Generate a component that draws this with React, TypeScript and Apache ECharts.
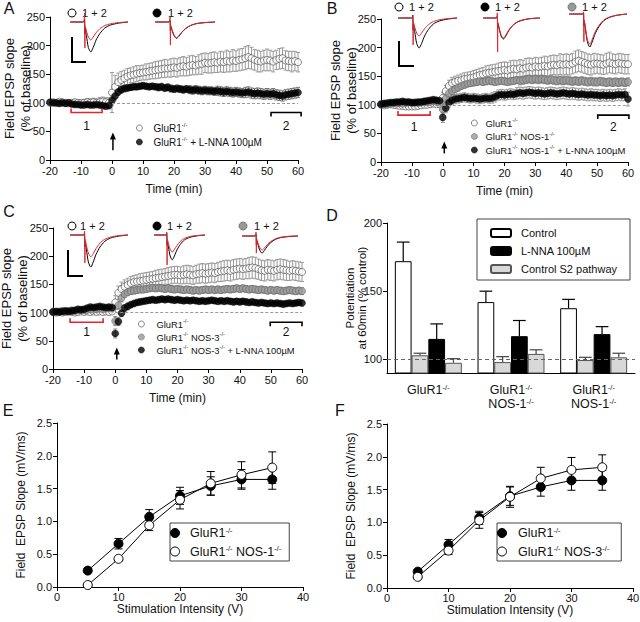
import React, { useEffect, useRef } from 'react';
import * as echarts from 'echarts';

const FONT = '"Liberation Sans", Arial, Helvetica, sans-serif';
const RED = '#e3262d';

// ---------- time course (min) ----------
const timeMin: number[] = Array.from({ length: 81 }, (_, i) => i - 20);

// Panel A
const aOpen = [
  100, 101, 100, 102, 101, 100, 99, 100, 101, 100,
  99, 100, 101, 100, 101, 100, 101, 102, 101, 100,
  118, 128, 136, 140, 143, 146, 148, 149, 151, 152,
  153, 154, 155, 156, 157, 158, 159, 160, 160, 161,
  162, 161, 163, 164, 163, 165, 166, 165, 167, 168,
  170, 169, 170, 171, 170, 172, 171, 173, 172, 174,
  173, 175, 176, 178, 180, 178, 175, 173, 172, 174,
  175, 174, 172, 175, 177, 178, 174, 173, 172, 173,
  171,
];
const aOpenErr = [
  3, 3, 3, 4, 3, 4, 4, 5, 5, 5,
  6, 6, 6, 7, 7, 7, 8, 8, 8, 9,
  35, 20, 16, 15, 14, 14, 13, 14, 14, 13,
  13, 14, 14, 14, 15, 15, 15, 16, 15, 16,
  16, 16, 16, 17, 16, 17, 17, 16, 17, 18,
  17, 17, 18, 18, 17, 18, 18, 19, 18, 19,
  18, 19, 19, 20, 20, 19, 18, 19, 18, 18,
  19, 18, 18, 17, 18, 18, 17, 17, 18, 17,
  17,
];
const aLnna = [
  101, 100, 100, 99, 100, 99, 100, 98, 97, 97,
  96, 96, 97, 96, 96, 97, 96, 95, 94, 95,
  104, 112, 119, 123, 125, 126, 127, 128, 128, 129,
  130, 129, 128, 129, 128, 127, 128, 126, 127, 125,
  124, 125, 124, 123, 124, 123, 122, 123, 122, 121,
  122, 121, 121, 120, 121, 120, 119, 120, 119, 118,
  119, 118, 117, 118, 119, 117, 116, 117, 116, 115,
  116, 115, 116, 114, 113, 112, 114, 115, 116, 117,
  118,
];
const aLnnaErr = [
  2, 2, 2, 2, 2, 2, 3, 3, 3, 3,
  3, 3, 3, 3, 3, 3, 3, 3, 3, 3,
  8, 7, 6, 6, 6, 5, 5, 5, 5, 5,
  5, 5, 5, 5, 5, 6, 6, 6, 6, 6,
  6, 6, 6, 6, 6, 7, 7, 7, 7, 7,
  7, 7, 7, 7, 8, 8, 8, 8, 8, 8,
  8, 8, 8, 9, 9, 9, 9, 9, 9, 9,
  9, 9, 9, 9, 9, 9, 9, 9, 9, 9,
  9,
];

// Panel B
const bOpen = [
  100, 99, 100, 101, 100, 99, 98, 98, 97, 97,
  97, 97, 98, 99, 100, 100, 101, 102, 101, 101,
  112, 124, 133, 138, 140, 142, 143, 145, 146, 147,
  148, 150, 152, 153, 155, 156, 157, 158, 159, 160,
  161, 160, 162, 163, 162, 164, 163, 165, 166, 165,
  167, 166, 167, 168, 167, 169, 170, 169, 171, 170,
  171, 170, 172, 175, 177, 175, 173, 171, 170, 172,
  172, 171, 170, 172, 174, 172, 171, 173, 172, 171,
  171,
];
const bOpenErr = [
  3, 3, 3, 3, 3, 3, 3, 3, 3, 3,
  3, 3, 3, 3, 3, 4, 4, 4, 4, 4,
  10, 10, 10, 10, 10, 10, 11, 11, 11, 11,
  12, 12, 12, 12, 13, 13, 13, 13, 14, 14,
  14, 14, 15, 15, 15, 15, 15, 16, 16, 16,
  16, 16, 16, 17, 17, 17, 17, 17, 18, 18,
  18, 18, 18, 19, 19, 18, 18, 18, 18, 18,
  17, 17, 17, 18, 18, 17, 17, 17, 17, 17,
  17,
];
const bNos = [
  101, 102, 101, 102, 103, 102, 103, 102, 103, 104,
  103, 104, 103, 104, 105, 104, 105, 106, 105, 104,
  92, 111, 120, 124, 127, 130, 133, 135, 137, 138,
  139, 140, 141, 140, 141, 142, 141, 140, 141, 142,
  141, 140, 141, 142, 143, 142, 143, 144, 145, 144,
  145, 144, 145, 144, 143, 144, 143, 142, 143, 142,
  143, 142, 141, 142, 141, 142, 141, 140, 141, 140,
  140, 141, 140, 139, 140, 139, 140, 139, 140, 139,
  140,
];
const bNosErr = [
  3, 3, 3, 3, 3, 3, 3, 3, 3, 3,
  3, 3, 3, 3, 3, 3, 3, 3, 3, 3,
  8, 7, 7, 6, 6, 6, 6, 6, 6, 6,
  6, 6, 6, 6, 6, 6, 6, 6, 6, 6,
  6, 6, 6, 6, 6, 7, 7, 7, 7, 7,
  7, 7, 7, 7, 7, 7, 7, 7, 7, 7,
  7, 7, 7, 7, 7, 7, 7, 7, 7, 7,
  7, 7, 7, 7, 7, 7, 7, 7, 7, 7,
  7,
];
const bLnna = [
  101, 102, 103, 104, 104, 105, 105, 106, 105, 105,
  104, 104, 105, 105, 106, 107, 108, 109, 108, 107,
  78, 94, 104, 108, 110, 111, 112, 113, 112, 111,
  112, 111, 110, 111, 112, 111, 112, 114, 117, 118,
  117, 118, 119, 118, 120, 121, 120, 121, 122, 121,
  120, 121, 120, 119, 120, 121, 120, 119, 120, 121,
  120, 119, 120, 119, 118, 119, 118, 117, 118, 117,
  117, 116, 117, 116, 117, 116, 117, 118, 117, 118,
  110,
];
const bLnnaErr = [
  2, 2, 2, 2, 2, 3, 3, 3, 3, 3,
  3, 3, 3, 3, 3, 3, 3, 3, 3, 3,
  9, 8, 8, 8, 8, 8, 8, 8, 8, 8,
  8, 8, 8, 8, 8, 8, 9, 9, 9, 9,
  9, 9, 9, 9, 10, 10, 10, 10, 10, 10,
  10, 10, 10, 10, 10, 10, 10, 10, 10, 10,
  10, 10, 10, 10, 10, 10, 10, 10, 10, 10,
  10, 10, 10, 10, 10, 10, 10, 10, 10, 10,
  12,
];

// Panel C
const cOpen = [
  101, 100, 101, 100, 101, 102, 101, 100, 101, 102,
  101, 102, 101, 102, 101, 102, 101, 102, 101, 102,
  118, 135, 142, 146, 149, 152, 154, 155, 156, 157,
  158, 159, 160, 161, 162, 163, 164, 165, 166, 167,
  167, 166, 167, 168, 167, 166, 168, 169, 170, 169,
  170, 171, 170, 172, 173, 174, 175, 174, 176, 177,
  178, 177, 178, 179, 180, 179, 177, 175, 174, 176,
  175, 174, 176, 177, 176, 175, 174, 175, 174, 173,
  172,
];
const cOpenErr = [
  3, 3, 3, 3, 3, 3, 3, 3, 3, 3,
  3, 3, 3, 3, 3, 3, 3, 3, 3, 3,
  12, 12, 12, 12, 12, 12, 12, 12, 13, 13,
  13, 13, 13, 14, 14, 14, 14, 15, 15, 15,
  15, 15, 16, 16, 16, 16, 16, 17, 17, 17,
  17, 17, 17, 17, 18, 18, 18, 18, 18, 18,
  18, 18, 18, 19, 19, 19, 18, 18, 18, 18,
  18, 18, 18, 18, 18, 18, 17, 17, 17, 17,
  17,
];
const cNos = [
  102, 101, 102, 103, 102, 103, 104, 103, 104, 105,
  104, 105, 106, 105, 106, 107, 106, 107, 108, 107,
  85, 113, 126, 133, 136, 138, 139, 140, 141, 141,
  142, 143, 144, 143, 144, 143, 142, 143, 142, 141,
  142, 141, 140, 141, 140, 139, 140, 139, 140, 141,
  140, 141, 140, 141, 140, 141, 142, 141, 142, 143,
  142, 143, 142, 141, 142, 141, 140, 141, 140, 139,
  140, 139, 140, 139, 138, 139, 140, 139, 138, 139,
  138,
];
const cNosErr = [
  3, 3, 3, 3, 3, 3, 3, 3, 3, 3,
  3, 3, 3, 3, 3, 3, 3, 3, 3, 3,
  8, 7, 7, 6, 6, 6, 6, 6, 6, 6,
  6, 6, 6, 6, 6, 6, 6, 6, 6, 6,
  6, 6, 6, 6, 6, 6, 6, 6, 6, 6,
  6, 6, 6, 6, 6, 6, 6, 6, 6, 6,
  6, 6, 6, 6, 6, 6, 6, 6, 6, 6,
  6, 6, 6, 6, 6, 6, 6, 6, 6, 6,
  6,
];
const cLnna = [
  101, 102, 101, 102, 103, 102, 103, 104, 106, 105,
  106, 108, 110, 109, 110, 111, 110, 109, 110, 109,
  63, 84, 99, 108, 111, 114, 116, 118, 119, 120,
  121, 122, 123, 122, 123, 124, 123, 124, 123, 122,
  123, 122, 121, 122, 121, 122, 121, 120, 121, 120,
  121, 122, 121, 120, 121, 120, 121, 120, 119, 120,
  119, 120, 119, 118, 119, 118, 117, 118, 117, 116,
  117, 116, 117, 116, 115, 116, 117, 116, 117, 118,
  117,
];
const cLnnaErr = [
  2, 2, 2, 2, 2, 2, 3, 3, 3, 3,
  3, 3, 3, 3, 3, 3, 3, 3, 3, 3,
  8, 7, 6, 6, 6, 5, 5, 5, 5, 5,
  5, 5, 5, 5, 5, 5, 5, 5, 5, 5,
  5, 5, 5, 5, 5, 5, 5, 5, 5, 5,
  5, 5, 5, 5, 5, 5, 5, 5, 5, 5,
  5, 5, 5, 5, 5, 5, 5, 5, 5, 5,
  5, 5, 5, 5, 5, 5, 5, 5, 5, 5,
  5,
];

// Brackets (time, % of baseline) and arrows
const bracketsA = [
  { from: -13.2, to: -3.2, y: 83, labelY: 60, text: '1' },
  { from: 51.3, to: 61, y: 83, labelY: 60, text: '2' },
];
const bracketsB = [
  { from: -14.5, to: -4.1, y: 82, labelY: 61, text: '1' },
  { from: 50.2, to: 60.3, y: 82, labelY: 62, text: '2' },
];
const bracketsC = [
  { from: -14.5, to: -3.9, y: 83, labelY: 66, text: '1' },
  { from: 49.8, to: 60, y: 83, labelY: 66, text: '2' },
];
const arrowA = { x: 0.3, y0: 17, y1: 48 };
const arrowB = { x: 0.5, y0: 15, y1: 36 };
const arrowC = { x: 0.5, y0: 17, y1: 38 };

// ---------- inset traces ----------
const traceT = [0, 14, 15, 15.4, 15.8, 17, 19, 21.5, 24, 27, 31, 36, 42, 50, 60];
const trRedA1 = [0, 0, 0.3, -0.87, -0.15, -0.3, -0.5, -0.6, -0.5, -0.36, -0.22, -0.12, -0.06, -0.02, 0];
const trBlkA1 = [0, 0, 0.1, -0.4, -0.2, -0.45, -0.85, -1.0, -0.85, -0.6, -0.38, -0.2, -0.1, -0.04, 0];
const trRedA2 = [0, 0, 0.17, -0.77, -0.12, -0.25, -0.42, -0.53, -0.45, -0.33, -0.2, -0.11, -0.05, -0.02, 0];
const trBlkA2 = [0, 0, 0.05, -0.3, -0.15, -0.28, -0.45, -0.55, -0.47, -0.34, -0.21, -0.11, -0.05, -0.02, 0];
const trRedB1 = [0, 0, 0.1, -0.9, -0.15, -0.3, -0.5, -0.6, -0.5, -0.36, -0.22, -0.12, -0.06, -0.02, 0];
const trBlkB1 = [0, 0, 0.1, -0.4, -0.2, -0.45, -0.85, -1.0, -0.85, -0.6, -0.38, -0.2, -0.1, -0.04, 0];
const trRedB2 = [0, 0, 0.17, -1.13, -0.15, -0.33, -0.56, -0.67, -0.57, -0.41, -0.25, -0.13, -0.06, -0.02, 0];
const trBlkB2 = [0, 0, 0.05, -0.35, -0.2, -0.35, -0.6, -0.7, -0.6, -0.43, -0.26, -0.14, -0.07, -0.02, 0];
const trRedB3 = [0, 0, 0.07, -0.93, -0.2, -0.45, -0.85, -1.0, -0.85, -0.6, -0.38, -0.2, -0.1, -0.04, 0];
const trBlkB3 = [0, 0, 0.05, -0.4, -0.25, -0.5, -0.92, -1.1, -0.93, -0.66, -0.42, -0.22, -0.11, -0.04, 0];
const trRedC1 = [0, 0, 0.13, -0.93, -0.15, -0.35, -0.6, -0.73, -0.62, -0.45, -0.27, -0.14, -0.07, -0.02, 0];
const trBlkC1 = [0, 0, 0.05, -0.4, -0.25, -0.5, -0.9, -1.07, -0.9, -0.64, -0.4, -0.21, -0.1, -0.04, 0];
const trRedC2 = [0, 0, 0.1, -1.0, -0.15, -0.28, -0.47, -0.57, -0.48, -0.35, -0.21, -0.11, -0.05, -0.02, 0];
const trBlkC2 = [0, 0, 0.05, -0.35, -0.2, -0.4, -0.7, -0.83, -0.7, -0.5, -0.31, -0.16, -0.08, -0.03, 0];
const trRedC3 = [0, 0, 0.13, -0.57, -0.1, -0.23, -0.38, -0.47, -0.4, -0.29, -0.18, -0.09, -0.04, -0.01, 0];
const trBlkC3 = [0, 0, 0.05, -0.3, -0.15, -0.28, -0.47, -0.57, -0.48, -0.35, -0.21, -0.11, -0.05, -0.02, 0];

// ---------- Panel D ----------
const dGroups = ['GluR1-/-', 'GluR1-/-\nNOS-1-/-', 'GluR1-/-\nNOS-1-/-'];
const dControl = [172, 142, 137.5];
const dControlErr = [14, 8, 6.5];
const dS2a = [103, 98, 99.5];
const dS2aErr = [1.5, 4, 2];
const dLnna = [115, 117, 118.5];
const dLnnaErr = [11, 11.5, 5.5];
const dS2b = [97.5, 104, 101.5];
const dS2bErr = [3, 3, 3];

// ---------- Panels E, F ----------
const stimV = [5, 10, 15, 20, 25, 30, 35];
const eGlu = [0.25, 0.66, 1.07, 1.39, 1.54, 1.64, 1.64];
const eGluErr = [0.03, 0.08, 0.11, 0.13, 0.14, 0.15, 0.15];
const eNos1 = [0.03, 0.43, 0.94, 1.33, 1.58, 1.71, 1.82];
const eNos1Err = [0.02, 0.03, 0.08, 0.14, 0.18, 0.2, 0.24];
const fGlu = [0.25, 0.66, 1.07, 1.4, 1.54, 1.64, 1.64];
const fGluErr = [0.03, 0.08, 0.1, 0.14, 0.14, 0.15, 0.15];
const fNos3 = [0.17, 0.57, 1.03, 1.39, 1.67, 1.8, 1.84];
const fNos3Err = [0.03, 0.06, 0.12, 0.16, 0.17, 0.19, 0.19];

// ---------- helpers ----------
const toRich = (s: string) =>
  s
    .split('\n')
    .map((line) =>
      line
        .split('-/-')
        .map((p, i, arr) => (p ? `{n|${p}}` : '') + (i < arr.length - 1 ? '{s|-/-}' : ''))
        .join('')
    )
    .join('\n');

const legendLabels: Record<string, string> = {
  A_open: 'GluR1-/-',
  A_lnna: 'GluR1-/- + L-NNA 100µM',
  B_open: 'GluR1-/-',
  B_nos: 'GluR1-/- NOS-1-/-',
  B_lnna: 'GluR1-/- NOS-1-/- + L-NNA 100µM',
  C_open: 'GluR1-/-',
  C_nos: 'GluR1-/- NOS-3-/-',
  C_lnna: 'GluR1-/- NOS-3-/- + L-NNA 100µM',
  E_glu: 'GluR1-/-',
  E_nos: 'GluR1-/- NOS-1-/-',
  F_glu: 'GluR1-/-',
  F_nos: 'GluR1-/- NOS-3-/-',
};

const richFor = (fs: number, lh: number) => ({
  n: { fontSize: fs, lineHeight: lh, fontFamily: FONT, color: '#111', verticalAlign: 'middle' },
  s: { fontSize: fs * 0.6, lineHeight: lh * 0.55, fontFamily: FONT, color: '#111', verticalAlign: 'top' },
});

const pts = (vals: number[]) => vals.map((v, i) => [timeMin[i], v]);
const errPts = (vals: number[], errs: number[]) => vals.map((v, i) => [timeMin[i], v, errs[i]]);

function errBars(gi: number, data: number[][], color: string, cap: number, z: number) {
  return {
    type: 'custom',
    xAxisIndex: gi,
    yAxisIndex: gi,
    silent: true,
    z,
    clip: false,
    encode: { x: 0, y: 1 },
    data,
    renderItem: (_p: any, api: any) => {
      const x = api.value(0), y = api.value(1), e = api.value(2);
      const hi = api.coord([x, y + e]);
      const lo = api.coord([x, y - e]);
      const h = cap / 2;
      const st = { stroke: color, lineWidth: 1 };
      return {
        type: 'group',
        children: [
          { type: 'line', shape: { x1: hi[0], y1: hi[1], x2: lo[0], y2: lo[1] }, style: st },
          { type: 'line', shape: { x1: hi[0] - h, y1: hi[1], x2: hi[0] + h, y2: hi[1] }, style: st },
          { type: 'line', shape: { x1: lo[0] - h, y1: lo[1], x2: lo[0] + h, y2: lo[1] }, style: st },
        ],
      };
    },
  };
}

function annotations(gi: number, brackets: any[], arrow: any) {
  const data = brackets.map((b) => [b.from, b.y]).concat([[arrow.x, arrow.y0]]);
  return {
    type: 'custom',
    xAxisIndex: gi,
    yAxisIndex: gi,
    silent: true,
    z: 8,
    clip: false,
    encode: { x: 0, y: 1 },
    data,
    renderItem: (params: any, api: any) => {
      const i = params.dataIndex;
      if (i < brackets.length) {
        const b = brackets[i];
        const p1 = api.coord([b.from, b.y]);
        const p2 = api.coord([b.to, b.y]);
        const pl = api.coord([(b.from + b.to) / 2, b.labelY]);
        const isRed = b.text === '1';
        const dy = isRed ? -4 : 4;
        return {
          type: 'group',
          children: [
            {
              type: 'polyline',
              shape: { points: [[p1[0], p1[1] + dy], [p1[0], p1[1]], [p2[0], p2[1]], [p2[0], p2[1] + dy]] },
              style: { stroke: isRed ? RED : '#000', lineWidth: 1.6, fill: null },
            },
            {
              type: 'text',
              x: pl[0],
              y: pl[1],
              style: { text: b.text, fill: '#111', fontSize: 12, fontFamily: FONT, align: 'center', verticalAlign: 'middle' },
            },
          ],
        };
      }
      const a0 = api.coord([arrow.x, arrow.y0]);
      const a1 = api.coord([arrow.x, arrow.y1]);
      return {
        type: 'group',
        children: [
          { type: 'line', shape: { x1: a0[0], y1: a0[1], x2: a1[0], y2: a1[1] + 5 }, style: { stroke: '#000', lineWidth: 1.5 } },
          {
            type: 'polygon',
            shape: { points: [[a1[0], a1[1]], [a1[0] - 3, a1[1] + 7], [a1[0] + 3, a1[1] + 7]] },
            style: { fill: '#000' },
          },
        ],
      };
    },
  };
}

const axisLine = { show: true, onZero: false, lineStyle: { color: '#000', width: 1 } };
const axisTick = { show: true, inside: false, length: 4, lineStyle: { color: '#000', width: 1 } };
const tickLabel = (margin: number) => ({ color: '#111', fontSize: 11, fontFamily: FONT, margin });

function timeXAxis(gi: number) {
  return {
    type: 'value', gridIndex: gi, min: -20, max: 60, interval: 10,
    axisLine, axisTick, axisLabel: tickLabel(5), splitLine: { show: false },
    name: 'Time (min)', nameLocation: 'middle', nameGap: 23,
    nameTextStyle: { fontSize: 12, color: '#111', fontFamily: FONT },
  };
}
function timeYAxis(gi: number, gap: number) {
  return {
    type: 'value', gridIndex: gi, min: 0, max: 250, interval: 50,
    axisLine, axisTick, axisLabel: tickLabel(5), splitLine: { show: false },
    name: 'Field EPSP slope\n(% of baseline)', nameLocation: 'middle', nameGap: gap, nameRotate: 90,
    nameMoveOverlap: false,
    nameTextStyle: { fontSize: 13, lineHeight: 15.5, color: '#111', fontFamily: FONT },
  };
}

const openStyle = { color: '#fff', borderColor: '#444', borderWidth: 0.8 };
const grayStyle = { color: '#9a9a9a', borderColor: '#6a6a6a', borderWidth: 0.8 };
const blackStyle = { color: '#000', borderColor: '#000', borderWidth: 0.5 };

function scatter(name: string, gi: number, vals: number[], style: any, z: number, dashed = false) {
  const s: any = {
    type: 'scatter', name, xAxisIndex: gi, yAxisIndex: gi, data: pts(vals),
    symbol: 'circle', symbolSize: 7, itemStyle: style, z, silent: true,
  };
  if (dashed) {
    s.markLine = {
      silent: true, symbol: 'none', label: { show: false },
      lineStyle: { color: '#999', type: [3, 2], width: 1 },
      data: [[{ coord: [0, 100] }, { coord: [60, 100] }]],
    };
  }
  return s;
}

const insets = [
  { left: 70, base: 22, width: 58, red: trRedA1, black: trBlkA1 },
  { left: 155, base: 22, width: 60, red: trRedA2, black: trBlkA2 },
  { left: 398, base: 18, width: 59, red: trRedB1, black: trBlkB1 },
  { left: 483, base: 18, width: 57, red: trRedB2, black: trBlkB2 },
  { left: 569, base: 14, width: 58, red: trRedB3, black: trBlkB3 },
  { left: 70, base: 235, width: 58, red: trRedC1, black: trBlkC1 },
  { left: 154, base: 235, width: 51, red: trRedC2, black: trBlkC2 },
  { left: 242, base: 236, width: 56, red: trRedC3, black: trBlkC3 },
];

function buildOption() {
  const grids: any[] = [
    { left: 50, top: 17, width: 248, height: 143 },
    { left: 381, top: 19, width: 247, height: 143 },
    { left: 53, top: 228, width: 249, height: 141 },
    { left: 387, top: 223, width: 248, height: 150 },
    { left: 57, top: 423, width: 246, height: 164 },
    { left: 387, top: 424, width: 246, height: 164 },
  ];
  insets.forEach((ins) => grids.push({ left: ins.left, top: ins.base - 12, width: ins.width, height: 51 }));
  grids.forEach((g) => { g.outerBoundsMode = 'none'; g.containLabel = false; });

  const xAxes: any[] = [
    timeXAxis(0),
    timeXAxis(1),
    timeXAxis(2),
    {
      type: 'category', gridIndex: 3, data: dGroups,
      axisLine, axisTick: { show: false },
      axisLabel: {
        margin: 10, interval: 0,
        formatter: (v: string) => toRich(v),
        rich: {
          n: { fontSize: 12.5, lineHeight: 14, fontFamily: FONT, color: '#111', verticalAlign: 'middle' },
          s: { fontSize: 7.5, lineHeight: 8, fontFamily: FONT, color: '#111', verticalAlign: 'top' },
        },
      },
    },
    {
      type: 'value', gridIndex: 4, min: 0, max: 40, interval: 10, axisLine, axisTick, axisLabel: tickLabel(4),
      splitLine: { show: false }, name: 'Stimulation Intensity (V)', nameLocation: 'middle', nameGap: 16,
      nameTextStyle: { fontSize: 12, color: '#111', fontFamily: FONT },
    },
    {
      type: 'value', gridIndex: 5, min: 0, max: 40, interval: 10, axisLine, axisTick, axisLabel: tickLabel(4),
      splitLine: { show: false }, name: 'Stimulation Intensity (V)', nameLocation: 'middle', nameGap: 16,
      nameTextStyle: { fontSize: 12, color: '#111', fontFamily: FONT },
    },
  ];
  const yAxes: any[] = [
    timeYAxis(0, 17),
    timeYAxis(1, 22),
    timeYAxis(2, 23),
    {
      type: 'value', gridIndex: 3, min: 90, max: 200, axisLine,
      axisTick: { ...axisTick, customValues: [100, 150, 200] },
      axisLabel: { ...tickLabel(5), customValues: [100, 150, 200] },
      splitLine: { show: false },
      name: 'Potentiation\nat 60min (% control)', nameLocation: 'middle', nameGap: 19, nameRotate: 90,
      nameMoveOverlap: false,
      nameTextStyle: { fontSize: 11.5, lineHeight: 12, color: '#111', fontFamily: FONT },
    },
    {
      type: 'value', gridIndex: 4, min: 0, max: 2.5, interval: 0.5, axisLine, axisTick,
      axisLabel: { ...tickLabel(5), formatter: (v: number) => v.toFixed(1) }, splitLine: { show: false },
      name: 'Field  EPSP Slope (mV/ms)', nameLocation: 'middle', nameGap: 30, nameRotate: 90,
      nameMoveOverlap: false,
      nameTextStyle: { fontSize: 12, color: '#111', fontFamily: FONT },
    },
    {
      type: 'value', gridIndex: 5, min: 0, max: 2.5, interval: 0.5, axisLine, axisTick,
      axisLabel: { ...tickLabel(5), formatter: (v: number) => v.toFixed(1) }, splitLine: { show: false },
      name: 'Field  EPSP Slope (mV/ms)', nameLocation: 'middle', nameGap: 30, nameRotate: 90,
      nameMoveOverlap: false,
      nameTextStyle: { fontSize: 12, color: '#111', fontFamily: FONT },
    },
  ];
  insets.forEach((_, k) => {
    xAxes.push({ type: 'value', gridIndex: 6 + k, min: 0, max: 60, show: false });
    yAxes.push({ type: 'value', gridIndex: 6 + k, min: -1.3, max: 0.4, show: false });
  });

  const series: any[] = [
    // A
    errBars(0, errPts(aOpen, aOpenErr), '#9a9a9a', 4, 1),
    errBars(0, errPts(aLnna, aLnnaErr), '#777', 4, 1),
    scatter('A_open', 0, aOpen, openStyle, 2, true),
    scatter('A_lnna', 0, aLnna, blackStyle, 4),
    annotations(0, bracketsA, arrowA),
    // B
    errBars(1, errPts(bOpen, bOpenErr), '#9a9a9a', 4, 1),
    errBars(1, errPts(bNos, bNosErr), '#888', 4, 1),
    errBars(1, errPts(bLnna, bLnnaErr), '#999', 4, 1),
    scatter('B_open', 1, bOpen, openStyle, 2, true),
    scatter('B_nos', 1, bNos, grayStyle, 3),
    scatter('B_lnna', 1, bLnna, blackStyle, 4),
    annotations(1, bracketsB, arrowB),
    // C
    errBars(2, errPts(cOpen, cOpenErr), '#9a9a9a', 4, 1),
    errBars(2, errPts(cNos, cNosErr), '#888', 4, 1),
    errBars(2, errPts(cLnna, cLnnaErr), '#999', 4, 1),
    scatter('C_open', 2, cOpen, openStyle, 2, true),
    scatter('C_nos', 2, cNos, grayStyle, 3),
    scatter('C_lnna', 2, cLnna, blackStyle, 4),
    annotations(2, bracketsC, arrowC),
    // D
    {
      type: 'bar', name: 'Control', xAxisIndex: 3, yAxisIndex: 3, data: dControl,
      barGap: '0%', barCategoryGap: '19%', silent: true,
      itemStyle: { color: '#fff', borderColor: '#000', borderWidth: 1 },
    },
    {
      type: 'bar', name: 'Control S2 pathway', xAxisIndex: 3, yAxisIndex: 3, data: dS2a,
      barGap: '0%', barCategoryGap: '19%', silent: true,
      itemStyle: { color: '#d8d8d8', borderColor: '#555', borderWidth: 1 },
    },
    {
      type: 'bar', name: 'L-NNA 100µM', xAxisIndex: 3, yAxisIndex: 3, data: dLnna,
      barGap: '0%', barCategoryGap: '19%', silent: true,
      itemStyle: { color: '#000', borderColor: '#000', borderWidth: 1 },
    },
    {
      type: 'bar', name: 'Control S2 pathway', xAxisIndex: 3, yAxisIndex: 3, data: dS2b,
      barGap: '0%', barCategoryGap: '19%', silent: true,
      itemStyle: { color: '#d8d8d8', borderColor: '#555', borderWidth: 1 },
      markLine: {
        silent: true, symbol: 'none', label: { show: false },
        lineStyle: { color: '#666', type: [4, 3], width: 1 },
        data: [{ yAxis: 100 }],
      },
    },
    {
      type: 'custom', xAxisIndex: 3, yAxisIndex: 3, silent: true, z: 5, clip: false,
      encode: { x: 0, y: 1 },
      data: [
        ...dControl.map((v, i) => [i, v, dControlErr[i], 0]),
        ...dS2a.map((v, i) => [i, v, dS2aErr[i], 1]),
        ...dLnna.map((v, i) => [i, v, dLnnaErr[i], 2]),
        ...dS2b.map((v, i) => [i, v, dS2bErr[i], 3]),
      ],
      renderItem: (_p: any, api: any) => {
        const ci = api.value(0), v = api.value(1), e = api.value(2), bi = api.value(3);
        const base = api.coord([ci, v]);
        const top = api.coord([ci, v + e]);
        const band = api.size([1, 0])[0];
        const bw = (band * (1 - 0.19)) / 4;
        const x = base[0] + (bi - 1.5) * bw;
        const color = bi % 2 === 1 ? '#444' : '#000';
        const h = bw * 0.38;
        const st = { stroke: color, lineWidth: 1.2 };
        return {
          type: 'group',
          children: [
            { type: 'line', shape: { x1: x, y1: base[1], x2: x, y2: top[1] }, style: st },
            { type: 'line', shape: { x1: x - h, y1: top[1], x2: x + h, y2: top[1] }, style: st },
          ],
        };
      },
    },
    // E
    errBars(4, stimV.map((x, i) => [x, eGlu[i], eGluErr[i]]), '#000', 8, 2),
    errBars(4, stimV.map((x, i) => [x, eNos1[i], eNos1Err[i]]), '#000', 8, 2),
    {
      type: 'line', name: 'E_glu', xAxisIndex: 4, yAxisIndex: 4, data: stimV.map((x, i) => [x, eGlu[i]]),
      symbol: 'circle', symbolSize: 9, silent: true, z: 3,
      itemStyle: { color: '#000', borderColor: '#000', borderWidth: 1 }, lineStyle: { color: '#000', width: 1 },
    },
    {
      type: 'line', name: 'E_nos', xAxisIndex: 4, yAxisIndex: 4, data: stimV.map((x, i) => [x, eNos1[i]]),
      symbol: 'circle', symbolSize: 9, silent: true, z: 4,
      itemStyle: { color: '#fff', borderColor: '#000', borderWidth: 1 }, lineStyle: { color: '#000', width: 1 },
    },
    // F
    errBars(5, stimV.map((x, i) => [x, fGlu[i], fGluErr[i]]), '#000', 8, 2),
    errBars(5, stimV.map((x, i) => [x, fNos3[i], fNos3Err[i]]), '#000', 8, 2),
    {
      type: 'line', name: 'F_glu', xAxisIndex: 5, yAxisIndex: 5, data: stimV.map((x, i) => [x, fGlu[i]]),
      symbol: 'circle', symbolSize: 9, silent: true, z: 3,
      itemStyle: { color: '#000', borderColor: '#000', borderWidth: 1 }, lineStyle: { color: '#000', width: 1 },
    },
    {
      type: 'line', name: 'F_nos', xAxisIndex: 5, yAxisIndex: 5, data: stimV.map((x, i) => [x, fNos3[i]]),
      symbol: 'circle', symbolSize: 9, silent: true, z: 4,
      itemStyle: { color: '#fff', borderColor: '#000', borderWidth: 1 }, lineStyle: { color: '#000', width: 1 },
    },
  ];

  insets.forEach((ins, k) => {
    const gi = 6 + k;
    series.push({
      type: 'line', xAxisIndex: gi, yAxisIndex: gi, silent: true, showSymbol: false, smooth: 0.25, z: 5,
      data: traceT.map((t, i) => [t, ins.black[i]]), lineStyle: { color: '#000', width: 1 },
    });
    series.push({
      type: 'line', xAxisIndex: gi, yAxisIndex: gi, silent: true, showSymbol: false, smooth: 0.25, z: 6,
      data: traceT.map((t, i) => [t, ins.red[i]]), lineStyle: { color: RED, width: 1 },
    });
  });

  const lf = (n: string) => toRich(legendLabels[n] || n);
  const circ = (n: string) => ({ name: n, icon: 'circle' });
  const smallIcon = { borderWidth: 0.8 };
  const legends: any[] = [
    {
      left: 136, top: 122, orient: 'vertical', itemWidth: 18, itemHeight: 6, itemGap: 3, padding: 0,
      selectedMode: false, data: [circ('A_open'), circ('A_lnna')], formatter: lf, itemStyle: smallIcon,
      textStyle: { fontSize: 10, fontFamily: FONT, color: '#111', rich: richFor(10, 12) },
    },
    {
      left: 471, top: 117, orient: 'vertical', itemWidth: 12, itemHeight: 6, itemGap: 2.5, padding: 0,
      selectedMode: false, data: [circ('B_open'), circ('B_nos'), circ('B_lnna')], formatter: lf, itemStyle: smallIcon,
      textStyle: { fontSize: 9.5, fontFamily: FONT, color: '#111', rich: richFor(9.5, 12) },
    },
    {
      left: 138, top: 318, orient: 'vertical', itemWidth: 20, itemHeight: 6, itemGap: 2.5, padding: 0,
      selectedMode: false, data: [circ('C_open'), circ('C_nos'), circ('C_lnna')], formatter: lf, itemStyle: smallIcon,
      textStyle: { fontSize: 9.4, fontFamily: FONT, color: '#111', rich: richFor(9.4, 12) },
    },
    {
      left: 477, top: 219, orient: 'vertical', itemWidth: 20, itemHeight: 8, itemGap: 4,
      padding: [7, 13, 4, 13], borderColor: '#444', borderWidth: 1, selectedMode: false,
      data: ['Control', 'L-NNA 100µM', 'Control S2 pathway'],
      textStyle: { fontSize: 11, lineHeight: 14, fontFamily: FONT, color: '#111', padding: [0, 0, 0, 5] },
    },
    {
      left: 170, top: 523, orient: 'vertical', itemWidth: 20, itemHeight: 9, itemGap: 5,
      padding: [3, 8, 3, 0], borderColor: '#444', borderWidth: 1, selectedMode: false,
      data: [circ('E_glu'), circ('E_nos')], formatter: lf, itemStyle: { borderWidth: 1 },
      textStyle: { fontSize: 12.5, fontFamily: FONT, color: '#111', rich: richFor(12.5, 14) },
    },
    {
      left: 497, top: 523, orient: 'vertical', itemWidth: 22, itemHeight: 9, itemGap: 5,
      padding: [3, 12, 3, 0], borderColor: '#444', borderWidth: 1, selectedMode: false,
      data: [circ('F_glu'), circ('F_nos')], formatter: lf, itemStyle: { borderWidth: 1 },
      textStyle: { fontSize: 12.5, fontFamily: FONT, color: '#111', rich: richFor(12.5, 14) },
    },
  ];

  const letter = (t: string, x: number, y: number) => ({
    type: 'text', x, y, silent: true,
    style: { text: t, fontSize: 16, fontFamily: FONT, fill: '#111', align: 'center', verticalAlign: 'middle' },
  });
  const mark = (x: number, y: number, fill: string, stroke: string) => ({
    type: 'circle', shape: { cx: x, cy: y, r: 4 }, silent: true, style: { fill, stroke, lineWidth: 1 },
  });
  const lbl = (x: number, y: number) => ({
    type: 'text', x, y, silent: true,
    style: { text: '1 + 2', fontSize: 11, fontFamily: FONT, fill: '#111', align: 'left', verticalAlign: 'middle' },
  });
  const bar = (x: number, y1: number, y2: number, x2: number) => ({
    type: 'polyline', silent: true, shape: { points: [[x, y1], [x, y2], [x2, y2]] },
    style: { stroke: '#000', lineWidth: 2, fill: null },
  });

  const graphic = [
    letter('A', 9, 8), letter('B', 332, 8), letter('C', 9, 211),
    letter('D', 332, 215), letter('E', 8, 410), letter('F', 340, 410),
    mark(72, 13, '#fff', '#000'), lbl(82, 13), mark(157, 13, '#000', '#000'), lbl(168, 13),
    mark(399, 7, '#fff', '#000'), lbl(409, 7), mark(485, 7, '#000', '#000'), lbl(495, 7),
    mark(572, 7, '#999', '#777'), lbl(582, 7),
    mark(72, 226, '#fff', '#000'), lbl(80, 226), mark(157, 226, '#000', '#000'), lbl(167, 226),
    mark(243, 226, '#999', '#777'), lbl(254, 226),
    bar(72, 37, 62, 86), bar(399, 41, 66, 414), bar(68, 250, 276, 83),
  ];

  return {
    animation: false,
    backgroundColor: '#fff',
    textStyle: { fontFamily: FONT },
    grid: grids,
    xAxis: xAxes,
    yAxis: yAxes,
    legend: legends,
    series,
    graphic,
  };
}

export default function App() {
  const ref = useRef<HTMLDivElement>(null);
  useEffect(() => {
    if (!ref.current) return;
    const chart = echarts.init(ref.current, undefined, { renderer: 'svg' });
    chart.setOption(buildOption() as any);
    return () => chart.dispose();
  }, []);
  return (
    <div
      ref={ref}
      style={{ position: 'absolute', left: 0, top: 0, width: 640, height: 622, background: '#fff' }}
    />
  );
}
